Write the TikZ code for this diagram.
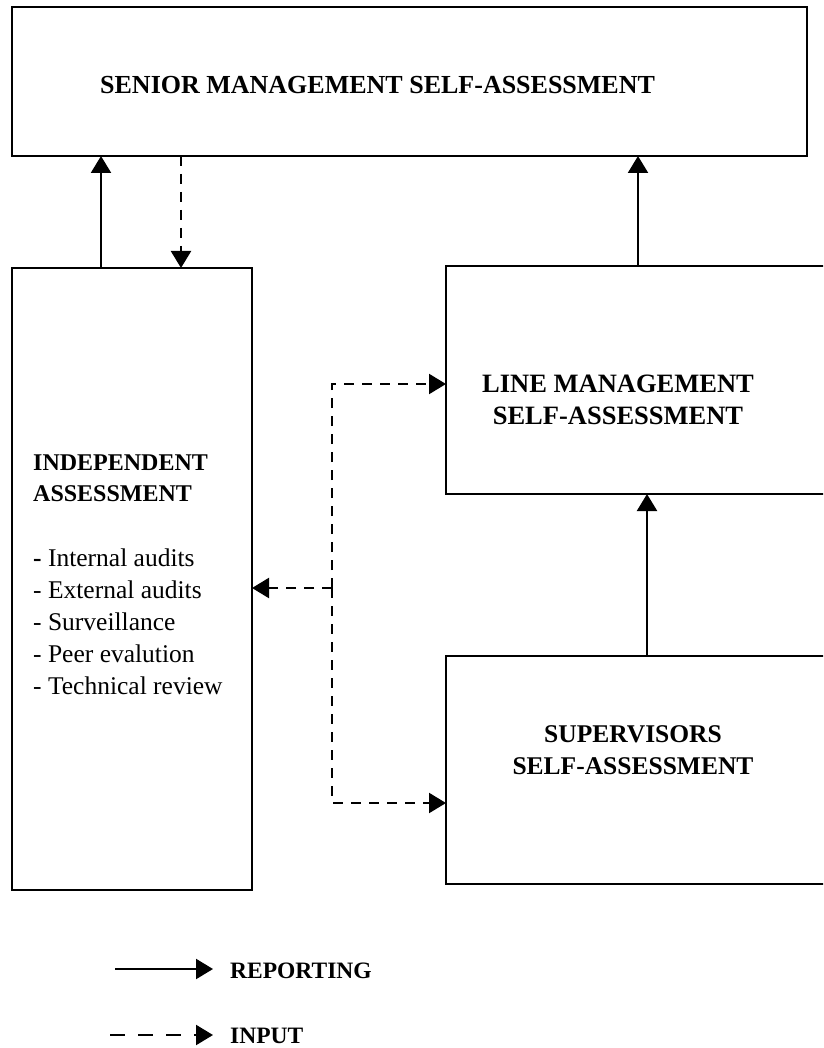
\documentclass[tikz,border=0pt]{standalone}
\usepackage{fontspec}
\setmainfont{Liberation Serif}
\usetikzlibrary{arrows.meta}
\begin{document}
\begin{tikzpicture}[x=1pt,y=-1pt,
  box/.style={draw, line width=2.6pt, inner sep=0pt, outer sep=0pt},
  reparrow/.style={line width=2.2pt, -{Triangle[length=17pt,width=20pt]}},
  inparrow/.style={reparrow, dash pattern=on 10pt off 8pt},
  legdash/.style={reparrow, dash pattern=on 15pt off 13pt},
  bt/.style={inner sep=0pt, anchor=base, font=\fontsize{26}{30}\selectfont\bfseries},
  lt/.style={inner sep=0pt, anchor=base west, font=\fontsize{25.5}{32}\selectfont}
]
\useasboundingbox (0,0) rectangle (823,1048);
\fill[white] (0,0) rectangle (823,1048);
\clip (0,0) rectangle (823,1048);

% boxes
\node[box, minimum width=795pt, minimum height=149pt] (top) at (409.5,81.5) {};
\node[box, minimum width=240pt, minimum height=622pt] (ind) at (132,579) {};
\node[box, minimum width=394pt, minimum height=228pt] (line) at (643,380) {};
\node[box, minimum width=394pt, minimum height=228pt] (sup) at (643,770) {};

% texts
\node[bt, anchor=base west] (topT) at (100,94) {SENIOR MANAGEMENT SELF-ASSESSMENT};

\node[bt, font=\fontsize{26.5}{30}\selectfont\bfseries] (lineT1) at (618,392) {LINE MANAGEMENT};
\node[bt, font=\fontsize{26.5}{30}\selectfont\bfseries] (lineT2) at (618,424) {SELF-ASSESSMENT};

\node[bt, font=\fontsize{25.5}{30}\selectfont\bfseries] (supT1) at (633,742) {SUPERVISORS};
\node[bt, font=\fontsize{25.5}{30}\selectfont\bfseries] (supT2) at (633,774) {SELF-ASSESSMENT};

\node[bt, anchor=base west, font=\fontsize{24}{30}\selectfont\bfseries] (indT1) at (33,470.5) {INDEPENDENT};
\node[bt, anchor=base west, font=\fontsize{24}{30}\selectfont\bfseries] (indT2) at (33,501.5) {ASSESSMENT};
\node[lt] (indL1) at (33,566) {{\bfseries -} Internal audits};
\node[lt] (indL2) at (33,598) {- External audits};
\node[lt] (indL3) at (33,630) {- Surveillance};
\node[lt] (indL4) at (33,662) {- Peer evalution};
\node[lt] (indL5) at (33,694) {- Technical review};

% reporting arrows
\draw[reparrow] ([xshift=89pt]ind.north west) -- ([xshift=89pt]top.south west);
\draw[reparrow] ([xshift=192pt]line.north west) -- ([xshift=626pt]top.south west);
\draw[reparrow] ([xshift=201pt]sup.north west) -- ([xshift=201pt]line.south west);

% input arrows
\draw[inparrow] ([xshift=169pt]top.south west) -- ([xshift=169pt]ind.north west);
\coordinate (J) at (332,588);
\draw[inparrow] (J) -- (J -| ind.east);
\draw[inparrow] (J) |- ([yshift=-118pt]line.north west);
\draw[inparrow] (J) |- ([yshift=-147pt]sup.north west);

% legend
\coordinate (l1a) at (115,969);
\coordinate (l1b) at (213,969);
\coordinate (l2a) at (110,1035);
\coordinate (l2b) at (213,1035);
\draw[reparrow] (l1a) -- (l1b);
\draw[legdash] (l2a) -- (l2b);
\node[bt, anchor=base west, font=\fontsize{23.5}{28}\selectfont\bfseries] (legR) at (230,978) {REPORTING};
\node[bt, anchor=base west, font=\fontsize{23.5}{28}\selectfont\bfseries] (legI) at (230,1043) {INPUT};
\end{tikzpicture}
\end{document}
